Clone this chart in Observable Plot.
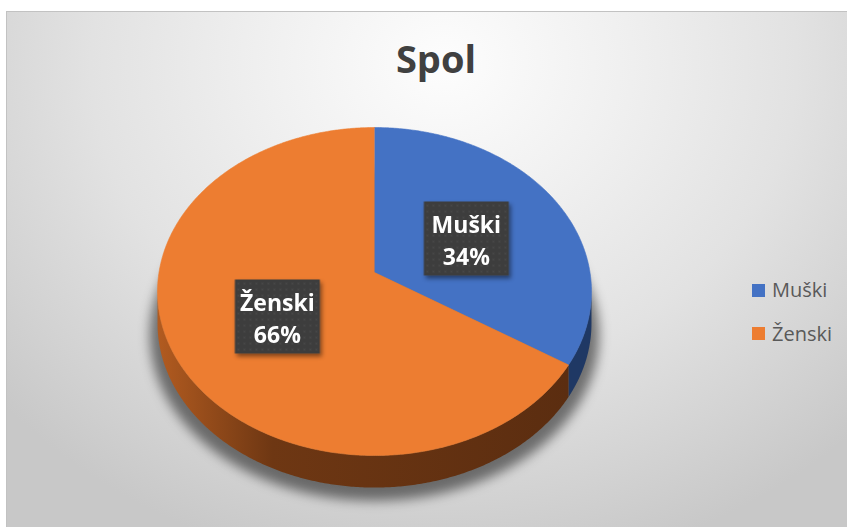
<!DOCTYPE html>
<html><head><meta charset="utf-8">
<script src="https://cdn.jsdelivr.net/npm/d3@7"></script>
<script src="https://cdn.jsdelivr.net/npm/@observablehq/plot@0.6"></script>
<style>
body{margin:0;background:#fff;}
#wrap{position:relative;width:847px;height:527px;overflow:hidden;font-family:"Open Sans",sans-serif;}
#bg{position:absolute;left:6px;top:11px;right:0;bottom:0;border-top:1px solid #c2c2c2;border-left:1px solid #c2c2c2;
 background:radial-gradient(ellipse 70% 100% at 52% 10%, #fdfdfd 0%, #f0f0f0 30%, #e2e2e2 60%, #d2d2d2 85%, #c8c8c8 100%);}
#chart{position:absolute;left:0;top:0;}
#title{position:absolute;left:336px;width:200px;top:32px;text-align:center;font-size:38px;font-weight:bold;color:#404040;white-space:nowrap;}
.lg{position:absolute;left:752px;font-size:20px;color:#595959;white-space:nowrap;}
.lg i{position:absolute;left:0;width:13px;height:13px;}
.lg span{position:absolute;left:20px;}
</style></head>
<body>
<div id="wrap">
  <div id="bg"></div>
  <div id="chart"></div>
  <div id="title">Spol</div>
  <div id="legend"></div>
</div>
<script>
// ---- data ----
const categories = ["Muški", "Ženski"];
const values = [34, 66];
const chartTitle = "Spol";

// ---- styles ----
const topColors = {"Muški": "#4472c4", "Ženski": "#ed7d31"};
const sideColors = {"Muški": "#1f3864", "Ženski": "url(#sideOrange)"};

// ---- geometry helpers (perspective projection of the pie's plane) ----
const P = 0.116;          // perspective strength
const DEPTH = 0.198;      // pie thickness in y units
function proj(theta, r = 1) {
  const u = r * Math.sin(theta), v = r * Math.cos(theta);
  const w = 1 + P * v;
  return [u / w, v / w];
}
const thetaR = Math.PI - Math.acos(P);          // right silhouette
const thetaL = Math.PI + Math.acos(P);          // left silhouette
const STEP = Math.PI / 360;

const total = d3.sum(values);
const arcs = d3.pie().sort(null).value(d => d.value)(categories.map((c, i) => ({cat: c, value: values[i]})));

function arcPts(a0, a1) {
  const n = Math.max(2, Math.ceil((a1 - a0) / STEP));
  return d3.range(n + 1).map(k => a0 + (a1 - a0) * k / n);
}

// top faces
const topData = arcs.flatMap(a => {
  const pts = [[0, 0], ...arcPts(a.startAngle, a.endAngle).map(t => proj(t))];
  return pts.map(([x, y]) => ({cat: a.data.cat, x, y}));
});
// side walls (visible front part only)
const sideData = arcs.flatMap(a => {
  const s = Math.max(a.startAngle, thetaR), e = Math.min(a.endAngle, thetaL);
  if (e <= s) return [];
  const ts = arcPts(s, e);
  const top = ts.map(t => proj(t));
  const bot = ts.slice().reverse().map(t => { const [x, y] = proj(t); return [x, y - DEPTH]; });
  return [...top, ...bot].map(([x, y]) => ({cat: a.data.cat, x, y}));
});
// soft shadow under the pie
const shadowData = arcPts(0, 2 * Math.PI).map(t => { const [x, y] = proj(t); return {x: x * 1.035, y: y * 1.01 - DEPTH - 0.07}; });
// labels
const labelData = arcs.map(a => {
  const [x, y] = proj((a.startAngle + a.endAngle) / 2, 0.5);
  return {cat: a.data.cat, x, y, text: `${a.data.cat}\n${Math.round(a.data.value / total * 100)}%`};
});

const boxSymbol = {draw(ctx) { ctx.rect(-42.5, -37, 85, 74); }};

const cx = 374, A = 215.5, cy = 272, B = 161.8;
const marks = [
  Plot.line(shadowData, {x: "x", y: "y", fill: "#000", fillOpacity: 0.5, stroke: "none"})
];
for (const c of categories) {
  marks.push(Plot.line(sideData.filter(d => d.cat === c), {x: "x", y: "y", fill: sideColors[c], stroke: "none"}));
}
for (const c of categories) {
  marks.push(Plot.line(topData.filter(d => d.cat === c), {x: "x", y: "y", fill: topColors[c], stroke: topColors[c], strokeWidth: 0.6}));
}
const boxMarkIndex = marks.length;
marks.push(Plot.dot(labelData, {x: "x", y: "y", symbol: boxSymbol, fill: "url(#dots)", stroke: "none", dy: 4}));
marks.push(Plot.text(labelData, {x: "x", y: "y", text: "text", fill: "white", fontSize: 23, fontWeight: "bold",
  fontFamily: "Open Sans", lineHeight: 1.4, dy: 4}));

const svg = Plot.plot({
  width: 847, height: 527, margin: 0,
  style: {background: "transparent", overflow: "visible"},
  x: {domain: [-1, 1], range: [cx - A, cx + A], axis: null},
  y: {domain: [-1, 1], range: [cy + B, cy - B], axis: null},
  marks
});
d3.select(svg).insert("defs", ":first-child").html(`
  <linearGradient id="sideOrange" x1="0" x2="1" y1="0" y2="0">
    <stop offset="0" stop-color="#b25b20"/>
    <stop offset="0.28" stop-color="#6e3713"/>
    <stop offset="1" stop-color="#5b2d10"/>
  </linearGradient>
  <pattern id="dots" width="6" height="6" patternUnits="userSpaceOnUse">
    <rect width="6" height="6" fill="#3d3d3d"/>
    <circle cx="3" cy="3" r="1" fill="#4a4a4a"/>
  </pattern>
  <filter id="blurShadow" x="-20%" y="-20%" width="140%" height="140%"><feGaussianBlur stdDeviation="6"/></filter>
  <filter id="boxShadow" x="-20%" y="-20%" width="140%" height="140%"><feDropShadow dx="2" dy="3" stdDeviation="2" flood-color="#000" flood-opacity="0.45"/></filter>
`);
const markGroups = svg.querySelectorAll(":scope > g");
markGroups[0].setAttribute("filter", "url(#blurShadow)");
markGroups[boxMarkIndex].setAttribute("filter", "url(#boxShadow)");
document.getElementById("chart").appendChild(svg);
document.getElementById("title").textContent = chartTitle;

// legend
const legendTops = [276, 320];
const lg = document.getElementById("legend");
categories.forEach((c, i) => {
  const d = document.createElement("div");
  d.className = "lg";
  d.style.top = legendTops[i] + "px";
  d.innerHTML = `<i style="background:${topColors[c]};top:${8 + (i ? -1 : 0)}px"></i><span>${c}</span>`;
  lg.appendChild(d);
});
</script>
</body></html>
